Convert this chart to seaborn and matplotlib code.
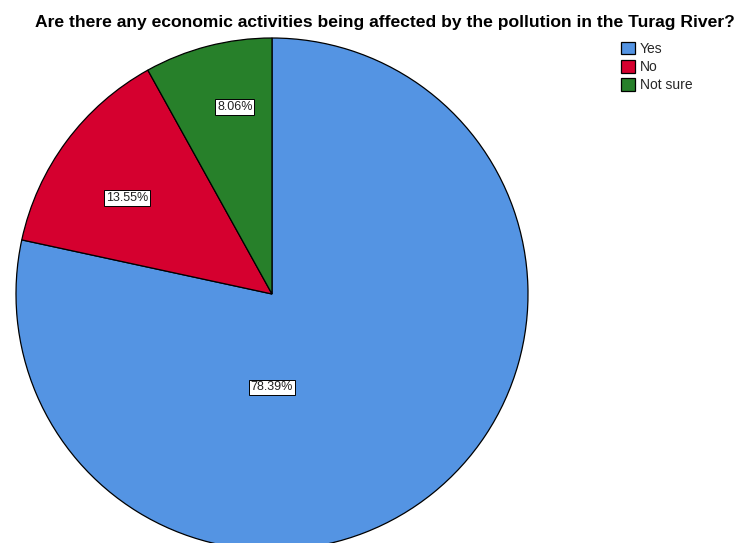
import matplotlib
matplotlib.use("Agg")
import matplotlib.pyplot as plt
import seaborn as sns
from matplotlib.patches import Patch

# Survey responses
categories = ["Yes", "No", "Not sure"]
percentages = [78.39, 13.55, 8.06]
slice_colors = ["#5494E3", "#D5002F", "#27802A"]
title = "Are there any economic activities being affected by the pollution in the Turag River?"

sns.set_theme(style="white")
plt.rcParams["font.family"] = ["Liberation Sans", "DejaVu Sans"]
palette = sns.color_palette(slice_colors)

fig = plt.figure(figsize=(7.39, 5.43), dpi=100)
ax = fig.add_axes([16 / 739, -7 / 543, 512 / 739, 512 / 543])

wedges, texts, autotexts = ax.pie(
    percentages,
    colors=palette,
    startangle=90,
    counterclock=False,
    autopct=lambda p: f"{p:.2f}%",
    pctdistance=0.7,
    wedgeprops=dict(edgecolor="black", linewidth=0.9),
    textprops=dict(fontsize=9, color="#222222"),
)
ax.set_xlim(-1.0, 1.0)
ax.set_ylim(-1.0, 1.0)
ax.set_aspect("equal")
ax.axis("off")

# The largest slice carries its label just below the centre
autotexts[0].set_position((0.0, -0.365))
autotexts[1].set_position((-0.565, 0.375))
autotexts[2].set_position((-0.145, 0.73))
for t in autotexts:
    t.set_bbox(dict(facecolor="white", edgecolor="black", linewidth=0.7, pad=1.3))

fig.text(385 / 739, 1 - 23 / 543, title, ha="center", va="center",
         fontsize=12.6, fontweight="bold", color="black")

handles = [Patch(facecolor=c, edgecolor="black", linewidth=0.9) for c in palette]
fig.legend(handles, categories, loc="upper left", bbox_to_anchor=(621 / 739, 1 - 42 / 543),
           frameon=False, fontsize=10, handlelength=1.0, handleheight=1.0,
           handletextpad=0.35, labelspacing=0.3, borderpad=0.0, borderaxespad=0.0)

fig.savefig("out.png", dpi=100, facecolor="white")
